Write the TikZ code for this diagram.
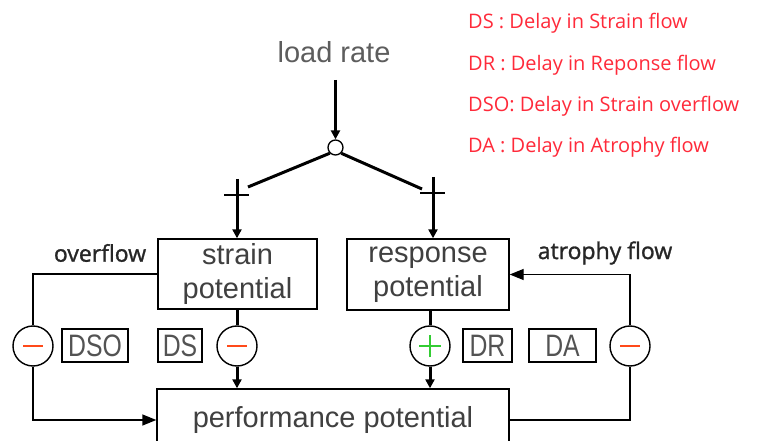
\documentclass[tikz,border=0pt]{standalone}
\usepackage{fontspec}
\setmainfont{Liberation Sans}
\newfontfamily\legfont{Open Sans}
\newfontfamily\lblfont[FakeBold=1.2]{Open Sans}
\usetikzlibrary{arrows.meta}
\definecolor{txt}{HTML}{404040}
\definecolor{legred}{HTML}{FF2A3A}
\definecolor{minusred}{HTML}{FF4A1A}
\definecolor{plusgreen}{HTML}{33CC33}
\tikzset{
  thinln/.style={line width=1.4pt, draw=black},
  thickln/.style={line width=3pt, draw=black},
  tip/.style={-{Triangle[length=9pt,width=9pt]}},
  bigtip/.style={-{Triangle[length=14pt,width=11pt]}},
  potbox/.style={draw, line width=1.4pt, align=center, text=txt, inner sep=0pt,
    font=\fontsize{29}{34}\selectfont},
  sumc/.style={circle, draw, line width=1.4pt, fill=white, minimum size=40pt, inner sep=0pt},
  minusc/.style={sumc, path picture={\draw[minusred, line width=1.6pt]
     ([xshift=-10pt]path picture bounding box.center) -- ([xshift=10pt]path picture bounding box.center);}},
  plusc/.style={sumc, path picture={\draw[plusgreen, line width=1.6pt]
     ([xshift=-11pt]path picture bounding box.center) -- ([xshift=11pt]path picture bounding box.center)
     ([yshift=-11pt]path picture bounding box.center) -- ([yshift=11pt]path picture bounding box.center);}},
  delaybox/.style={draw, line width=1.2pt, inner sep=0pt, minimum height=33pt, text=txt!90},
  leg/.style={anchor=west, text=legred, inner sep=0pt, font=\legfont\fontsize{20}{23}\selectfont},
  flowlbl/.style={text=black!85, inner sep=0pt, font=\lblfont\fontsize{23}{26}\selectfont},
}
\newcommand{\dlbl}[1]{\scalebox{0.8}[1]{\fontsize{31}{31}\selectfont #1}}
\begin{document}
\begin{tikzpicture}[x=1pt,y=-1pt]
\useasboundingbox (0,0) rectangle (772,441);
\fill[white] (0,0) rectangle (772,441);

% legend
\node[leg] (l1) at (468,23) {DS : Delay in Strain flow};
\node[leg] (l2) at (468,65) {DR : Delay in Reponse flow};
\node[leg] (l3) at (468,106) {DSO: Delay in Strain overflow};
\node[leg] (l4) at (468,147) {DA : Delay in Atrophy flow};

% top
\node[text=txt!85, inner sep=0pt, font=\fontsize{29}{34}\selectfont] (load) at (334,52) {load rate};
\node[circle, draw, line width=1.3pt, fill=white, minimum size=15pt, inner sep=0pt] (j) at (335.5,147.5) {};
\coordinate (loadend) at (335.5,80);
\draw[thickln, tip] (loadend) -- (j.north);
\coordinate (lend) at (248,187);
\coordinate (rend) at (422,189);
\draw[thickln] (j.south west) -- (lend);
\draw[thickln] (j.south east) -- (rend);
% plus marks
\coordinate (pl) at (237,195);
\coordinate (pr) at (433,193);
\draw[thinln] ([xshift=-13pt]pl) -- ([xshift=12pt]pl) ([yshift=-12pt]pl) -- ([yshift=12pt]pl);
\draw[thinln] ([xshift=-13pt]pr) -- ([xshift=12pt]pr) ([yshift=-12pt]pr) -- ([yshift=12pt]pr);

% boxes
\node[potbox, minimum width=159pt, minimum height=70pt] (strain) at (237.5,274) {strain\\potential};
\node[potbox, minimum width=162pt, minimum height=71pt] (resp) at (428,274.5) {response\\potential};
\node[potbox, minimum width=352pt, minimum height=62pt] (perf) at (333,420) {performance potential};

\draw[thickln, tip] ([yshift=16pt]pl) -- (pl |- strain.north);
\draw[thickln, tip] ([yshift=16pt]pr) -- (pr |- resp.north);

% circles
\node[minusc] (cdso) at (33,346) {};
\node[minusc] (cds) at (237,346) {};
\node[plusc] (cdr) at (430,346) {};
\node[minusc] (cda) at (630,346) {};

% delay boxes
\node[delaybox, minimum width=66pt] (dso) at (95,345.5) {\dlbl{DSO}};
\node[delaybox, minimum width=44pt] (ds) at (180,345.5) {\dlbl{DS}};
\node[delaybox, minimum width=49pt] (dr) at (487.5,345.5) {\dlbl{DR}};
\node[delaybox, minimum width=67pt] (da) at (562.5,345.5) {\dlbl{DA}};

% flows
\draw[thickln] (cds |- strain.south) -- (cds.north);
\draw[thickln, tip] (cds.south) -- (cds |- perf.north);
\draw[thickln] (cdr |- resp.south) -- (cdr.north);
\draw[thickln, tip] (cdr.south) -- (cdr |- perf.north);

\draw[thinln] (strain.west) -| (cdso.north);
\draw[thinln, bigtip] (cdso.south) |- (perf.west);
\draw[thinln] (perf.east) -| (cda.south);
\draw[thinln, bigtip] (cda.north) |- (resp.east);

\node[flowlbl] (ovl) at (100,253) {overflow};
\node[flowlbl] (atl) at (605,253) {atrophy flow};
\end{tikzpicture}
\end{document}
